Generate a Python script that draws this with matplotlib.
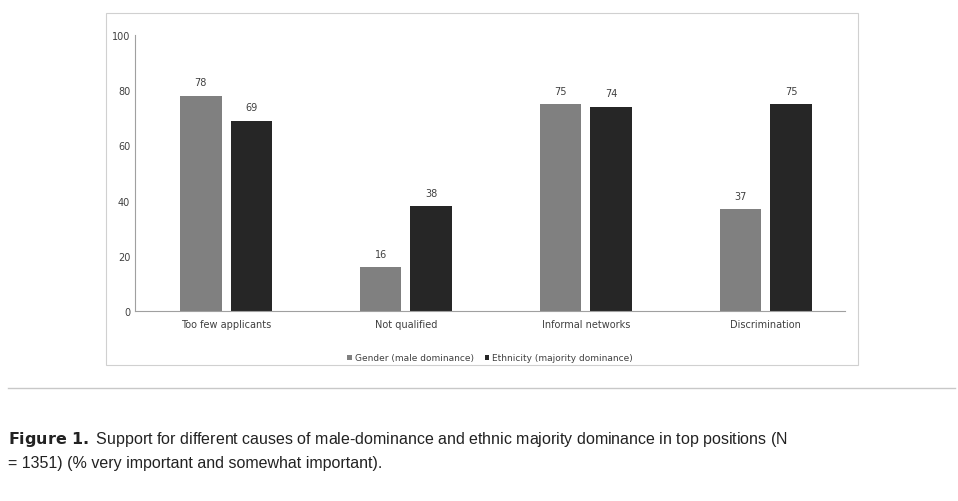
import numpy as np
import matplotlib.pyplot as plt
from matplotlib.patches import Rectangle
from matplotlib.lines import Line2D

categories = ['Too few applicants', 'Not qualified', 'Informal networks', 'Discrimination']
gender = [78, 16, 75, 37]
ethnicity = [69, 38, 74, 75]
yticks = [0, 20, 40, 60, 80, 100]

fig = plt.figure(figsize=(9.58, 5.02), dpi=100)
fig.patches.append(Rectangle((106/958, 1-366/502), 752/958, 352/502, transform=fig.transFigure,
                             fill=False, edgecolor='#d0d0d0', linewidth=0.8))
ax = fig.add_axes([135/958, 1-312/502, 710/958, 276/502])

x = np.arange(len(categories))
w = 0.23
b1 = ax.bar(x - 0.14, gender, w, color='#808080', label='Gender (male dominance)')
b2 = ax.bar(x + 0.14, ethnicity, w, color='#262626', label='Ethnicity (majority dominance)')
for bars, vals in ((b1, gender), (b2, ethnicity)):
    for r, v in zip(bars, vals):
        ax.text(r.get_x() + r.get_width()/2, v + 3, str(v), ha='center', va='bottom',
                fontsize=7, color='#404040')

ax.set_xlim(-0.506, 3.44)
ax.set_ylim(0, 100)
ax.set_yticks(yticks)
ax.set_xticks(x)
ax.set_xticklabels(categories)
ax.tick_params(length=0, labelsize=7, colors='#404040')
ax.tick_params(axis='x', pad=6)
for s in ['top', 'right']:
    ax.spines[s].set_visible(False)
ax.spines['left'].set_color('#a0a0a0')
ax.spines['bottom'].set_color('#a0a0a0')

ax.legend(loc='center', bbox_to_anchor=(0.5, -0.17), ncol=2, frameon=False, fontsize=6.5,
          handlelength=0.5, handleheight=0.5, columnspacing=1.2, handletextpad=0.3,
          labelcolor='#404040')

fig.add_artist(Line2D([8/958, 955/958], [1-389/502]*2, transform=fig.transFigure,
                      color='#c8c8c8', linewidth=1))
cap = dict(fontsize=11.5, va='center', color='#222222', family='Liberation Sans')
fig.text(8/958, 1-440/502, r'$\bf{Figure\ 1.}$ Support for different causes of male-dominance and ethnic majority dominance in top positions (N', **cap)
fig.text(8/958, 1-464/502, '= 1351) (% very important and somewhat important).', **cap)

fig.savefig('out.png', dpi=100)
